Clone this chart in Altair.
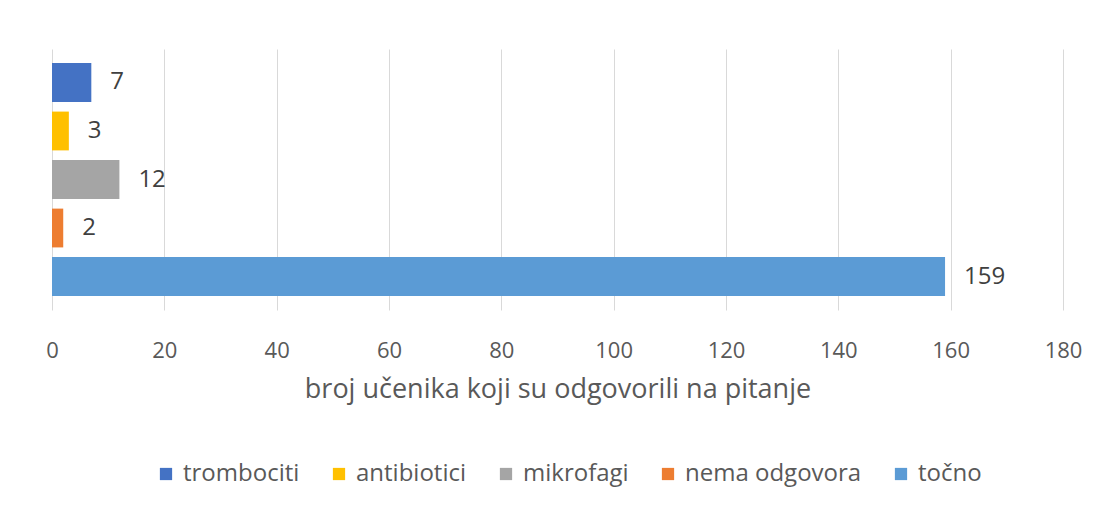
import altair as alt
import pandas as pd

categories = ["trombociti", "antibiotici", "mikrofagi", "nema odgovora", "točno"]
values = [7, 3, 12, 2, 159]
colors = ["#4472C4", "#FFC000", "#A5A5A5", "#ED7D31", "#5B9BD5"]
x_ticks = [0, 20, 40, 60, 80, 100, 120, 140, 160, 180]

df = pd.DataFrame({"kategorija": categories, "broj": values})

FONT = "Open Sans"

y_enc = alt.Y("kategorija:N", sort=categories,
              scale=alt.Scale(paddingInner=0.2, paddingOuter=0.29),
              axis=None)

bars = alt.Chart(df).mark_bar().encode(
    x=alt.X("broj:Q",
            scale=alt.Scale(domain=[0, 180], nice=False),
            axis=alt.Axis(values=x_ticks, title="broj učenika koji su odgovorili na pitanje",
                          grid=True, gridColor="#D9D9D9", gridWidth=1,
                          domain=False, ticks=False, labelFlush=False,
                          labelFont=FONT, labelFontSize=22, labelColor="#595959",
                          labelPadding=30, labelBaseline="top",
                          titleFont=FONT, titleFontSize=27, titleColor="#595959",
                          titleFontWeight="normal", titlePadding=15)),
    y=y_enc,
    color=alt.Color("kategorija:N", sort=categories,
                    scale=alt.Scale(domain=categories, range=colors),
                    legend=alt.Legend(title=None, orient="none", direction="horizontal",
                                      legendX=102, legendY=413, padding=0,
                                      symbolType="square", symbolSize=150,
                                      symbolStrokeWidth=0, columnPadding=27,
                                      labelOffset=5, labelFont=FONT, labelFontSize=24,
                                      labelColor="#595959", labelLimit=400))
)

labels = alt.Chart(df).mark_text(align="left", baseline="middle", dx=19,
                                 font=FONT, fontSize=24, color="#404040").encode(
    x=alt.X("broj:Q"),
    y=y_enc,
    text=alt.Text("broj:Q"),
)

chart = (bars + labels).properties(
    width=1011, height=261,
    background="white",
    autosize=alt.AutoSizeParams(type="none"),
    padding={"left": 44, "top": 41, "right": 39, "bottom": 192},
).configure_view(strokeWidth=0)

chart.save("out.html", embed_options={"renderer": "svg", "actions": False})
